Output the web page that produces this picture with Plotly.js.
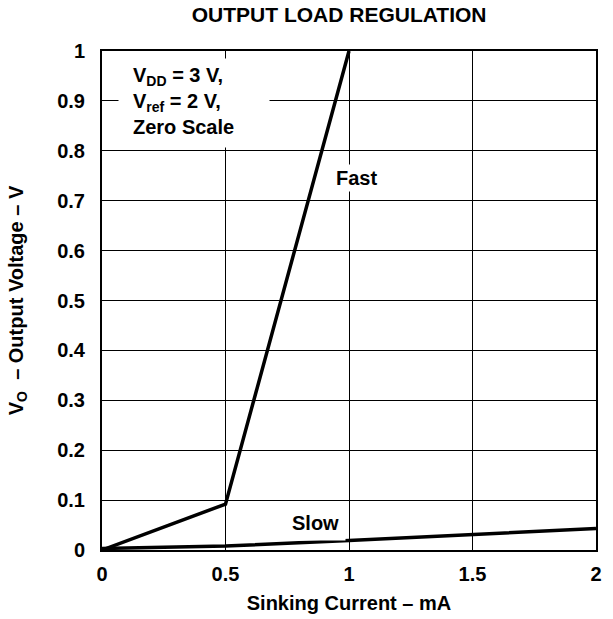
<!DOCTYPE html>
<html>
<head>
<meta charset="utf-8">
<script src="https://cdn.plot.ly/plotly-3.0.1.min.js"></script>
<style>html,body{margin:0;padding:0;background:#fff;}</style>
</head>
<body>
<div id="chart" style="width:613px;height:619px;"></div>
<script>
// Data
const fastCurrent = [0, 0.5, 1.0];
const fastVoltage = [0.0, 0.092, 1.0];
const slowCurrent = [0, 0.5, 1.0, 1.5, 2.0];
const slowVoltage = [0.003, 0.008, 0.019, 0.031, 0.043];
const xTickVals = [0, 0.5, 1, 1.5, 2];
const xTickText = ['0', '0.5', '1', '1.5', '2'];
const yTickVals = [0, 0.1, 0.2, 0.3, 0.4, 0.5, 0.6, 0.7, 0.8, 0.9, 1];
const yTickText = ['0', '0.1', '0.2', '0.3', '0.4', '0.5', '0.6', '0.7', '0.8', '0.9', '1'];
const seriesLabels = ['Fast', 'Slow'];

const font = 'Liberation Sans, Arial, sans-serif';
const fs = 20;
const traces = [
  {x: fastCurrent, y: fastVoltage, mode: 'lines', name: seriesLabels[0],
   line: {color: '#000', width: 3.5}, hoverinfo: 'none'},
  {x: slowCurrent, y: slowVoltage, mode: 'lines', name: seriesLabels[1],
   line: {color: '#000', width: 3.5}, hoverinfo: 'none'}
];
const layout = {
  width: 613, height: 619,
  margin: {l: 102, r: 17, t: 51, b: 69},
  paper_bgcolor: '#fff', plot_bgcolor: '#fff',
  showlegend: false,
  font: {family: font, color: '#000', size: fs},
  title: {text: '<b>OUTPUT LOAD REGULATION</b>', xref: 'paper', x: 0.48, xanchor: 'center',
          yref: 'container', y: 0.977, yanchor: 'middle',
          font: {family: font, size: 21, color: '#000'}},
  xaxis: {
    range: [0, 2], tickvals: xTickVals, ticktext: xTickText.map(t => '<b>' + t + '</b>'),
    showgrid: true, gridcolor: '#000', gridwidth: 1,
    showline: true, linecolor: '#000', linewidth: 2, mirror: true,
    ticks: '', zeroline: false, ticklabelstandoff: 5,
    tickfont: {family: font, size: fs, color: '#000'},
    title: {text: '<b>Sinking Current – mA</b>', font: {family: font, size: fs, color: '#000'}, standoff: 12}
  },
  yaxis: {
    range: [0, 1], tickvals: yTickVals, ticktext: yTickText.map(t => '<b>' + t + '</b>'),
    showgrid: true, gridcolor: '#000', gridwidth: 1,
    showline: true, linecolor: '#000', linewidth: 2, mirror: true,
    ticks: '', zeroline: false, ticklabelstandoff: 11,
    tickfont: {family: font, size: fs, color: '#000'},
    title: {text: '<b>V<sub>O</sub>  – Output Voltage – V</b>', font: {family: font, size: fs, color: '#000'}, standoff: 28}
  },
  annotations: [
    {x: 0.065, y: 0.985, xref: 'x', yref: 'y', xanchor: 'left', yanchor: 'top',
     showarrow: false, bgcolor: '#fff', borderpad: 0, width: 150, height: 88, text: ' '},
    {x: 0.121, y: 0.975, xref: 'x', yref: 'y', xanchor: 'left', yanchor: 'top', align: 'left',
     showarrow: false, borderpad: 0,
     text: '<b>V<sub>DD</sub> = 3 V,<br>V<sub>ref</sub> = 2 V,<br>Zero Scale</b>',
     font: {family: font, size: fs, color: '#000'}},
    {x: 1.03, y: 0.745, xref: 'x', yref: 'y', showarrow: false, bgcolor: '#fff', borderpad: 2,
     text: '<b>' + seriesLabels[0] + '</b>', font: {family: font, size: fs, color: '#000'}},
    {x: 0.864, y: 0.055, xref: 'x', yref: 'y', showarrow: false, bgcolor: '#fff', borderpad: 6,
     text: '<b>' + seriesLabels[1] + '</b>', font: {family: font, size: fs, color: '#000'}}
  ]
};
Plotly.newPlot('chart', traces, layout, {staticPlot: true, displayModeBar: false});
</script>
</body>
</html>
